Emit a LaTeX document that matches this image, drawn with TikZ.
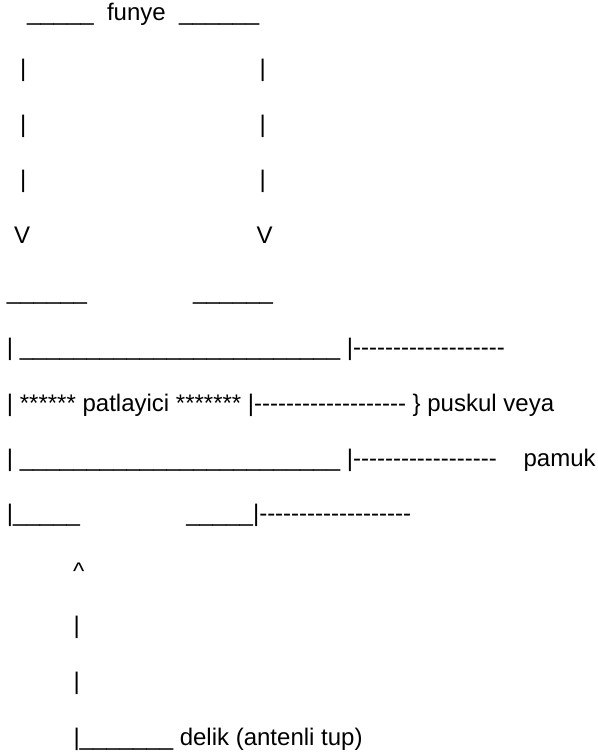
\documentclass[tikz,border=0pt]{standalone}
\usepackage{fontspec}
\setmainfont{Liberation Sans}
\usepackage{tikz}
\newcommand{\ubar}[1]{\foreach \k in {1,...,#1}{\_}}
\newcommand{\dashrun}[1]{\foreach \k in {1,...,#1}{-}}
\begin{document}
\begin{tikzpicture}[
    x=0.75pt, y=-0.75pt,
    asc/.style={anchor=base west, inner sep=0pt, outer sep=0pt, font=\fontsize{18}{21}\selectfont}
  ]
    \useasboundingbox (0,0) rectangle (598,756);
    % fuse
    \node[asc] (fuseline) at (27,21) {\ubar{5}\ \ funye\ \ \ubar{6}};
    \node[asc] (leftA) at (20,76.7) {|};
    \node[asc] (rightA) at (259.5,76.7) {|};
    \node[asc] (leftB) at (20,132.5) {|};
    \node[asc] (rightB) at (259.5,132.5) {|};
    \node[asc] (leftC) at (20,187.8) {|};
    \node[asc] (rightC) at (259.5,187.8) {|};
    \node[asc] (leftV) at (14,243.3) {V};
    \node[asc] (rightV) at (256.5,243.3) {V};
    % body
    \node[asc] (capL) at (7,299) {\ubar{6}};
    \node[asc] (capR) at (193,299) {\ubar{6}};
    \node[asc] (rowA) at (7,355.7) {|\ \ubar{24}\ |\dashrun{19}};
    \node[asc] (rowB) at (7,411) {|\ ******\ patlayici\ *******\ |\dashrun{19}\ \}\ puskul veya};
    \node[asc] (rowC) at (7,466.7) {|\ \ubar{24}\ |\dashrun{18}\ \ \ \ pamuk};
    \node[asc] (rowD) at (7,521.7) {|\ubar{5}};
    \node[asc] (rowE) at (186.3,521.7) {\ubar{5}|\dashrun{19}};
    % hole
    \node[asc] (holeTip) at (73,579) {\textasciicircum};
    \node[asc] (holeA) at (73.5,633.3) {|};
    \node[asc] (holeB) at (73.5,689.3) {|};
    \node[asc] (holeC) at (73.5,745) {|\ubar{7}\ delik (antenli tup)};
\end{tikzpicture}
\end{document}
